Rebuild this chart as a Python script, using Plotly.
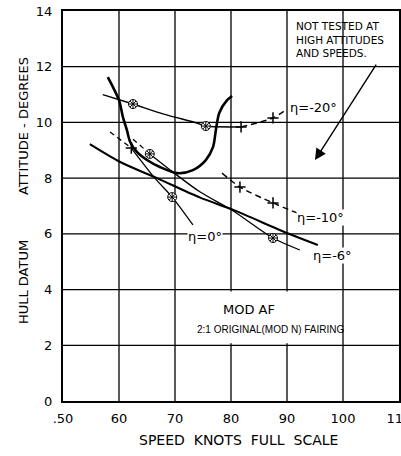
import plotly.graph_objects as go

# ---- data ----
x_ticks = [50, 60, 70, 80, 90, 100, 110]
x_tick_text = [".50", "60", "70", "80", "90", "100", "110"]
y_ticks = [0, 2, 4, 6, 8, 10, 12, 14]
y_tick_text = ["0", "2", "4", "6", "8", "10", "12", "14"]

# porpoising boundary (U-shaped solid curve)
u_speed = [58.0, 60.0, 60.7, 61.4, 62.0, 63.2, 65.0, 67.3, 70.4, 73.2, 75.5, 76.8, 77.3, 77.9, 79.3, 80.2]
u_att = [11.63, 10.8, 10.19, 9.73, 9.3, 8.94, 8.65, 8.4, 8.18, 8.29, 8.65, 9.12, 9.73, 10.34, 10.8, 10.95]

# heavy faired line
a_speed = [54.8, 60.2, 66.8, 74.5, 80.4, 90.0, 95.5]
a_att = [9.22, 8.58, 8.0, 7.3, 6.86, 6.03, 5.6]

# eta = -20 deg
e20_speed = [57.1, 62.5, 68.0, 73.9, 75.5, 81.8, 87.5, 89.8]
e20_att = [11.0, 10.66, 10.3, 9.98, 9.87, 9.84, 10.16, 10.45]
e20_star_speed = [62.5, 75.5]
e20_star_att = [10.66, 9.87]
e20_plus_speed = [81.8, 87.5]
e20_plus_att = [9.84, 10.16]

# eta = -10 deg
e10_speed = [78.4, 81.6, 87.5, 91.8]
e10_att = [8.18, 7.68, 7.11, 6.75]
e10_plus_speed = [81.6, 87.5]
e10_plus_att = [7.68, 7.11]

# eta = 0 deg
e0_speed = [58.4, 62.2, 66.4, 69.5, 73.2]
e0_att = [9.66, 9.08, 8.0, 7.32, 6.32]
e0_plus_speed = [62.2]
e0_plus_att = [9.08]
e0_star_speed = [69.5]
e0_star_att = [7.32]

# eta = -6 deg
e6_speed = [62.5, 65.5, 70.4, 74.5, 80.4, 87.5, 92.3]
e6_att = [9.40, 8.87, 8.1, 7.5, 6.82, 5.85, 5.42]
e6_star_speed = [65.5, 87.5]
e6_star_att = [8.87, 5.85]

FONT = "DejaVu Sans"
fig = go.Figure()

def line(xs, ys, width, dash="solid", shape="spline"):
    fig.add_trace(go.Scatter(x=xs, y=ys, mode="lines",
                             line=dict(color="black", width=width, dash=dash, shape=shape, smoothing=0.8),
                             showlegend=False, hoverinfo="skip"))

def star(xs, ys):
    fig.add_trace(go.Scatter(x=xs, y=ys, mode="markers",
                             marker=dict(symbol="circle", size=9, color="white",
                                         line=dict(color="black", width=1)),
                             showlegend=False, hoverinfo="skip"))
    fig.add_trace(go.Scatter(x=xs, y=ys, mode="markers",
                             marker=dict(symbol="asterisk-open", size=7, color="black",
                                         line=dict(color="black", width=1)),
                             showlegend=False, hoverinfo="skip"))

def plus(xs, ys):
    fig.add_trace(go.Scatter(x=xs, y=ys, mode="markers",
                             marker=dict(symbol="cross-thin-open", size=8, color="black",
                                         line=dict(color="black", width=1.5)),
                             showlegend=False, hoverinfo="skip"))

line(u_speed, u_att, 2.6)
line(a_speed, a_att, 2.1)
line(e20_speed[:6], e20_att[:6], 1.4)
line(e20_speed[5:], e20_att[5:], 1.4, dash="6px,4px")
line(e10_speed, e10_att, 1.4, dash="6px,4px")
line(e0_speed[:2], e0_att[:2], 1.3, dash="5px,4px")
line(e0_speed[1:], e0_att[1:], 1.3)
line(e6_speed[:2], e6_att[:2], 1.3, dash="5px,4px")
line(e6_speed[1:], e6_att[1:], 1.3)

star(e20_star_speed, e20_star_att)
star(e0_star_speed, e0_star_att)
star(e6_star_speed, e6_star_att)
plus(e20_plus_speed, e20_plus_att)
plus(e10_plus_speed, e10_plus_att)
plus(e0_plus_speed, e0_plus_att)

ann = []
def label(x, y, text, size=13, xanchor="center", bg="white", align="center", yanchor="middle",
          xref="x", yref="y", angle=0, family=FONT):
    ann.append(dict(x=x, y=y, text=text, showarrow=False, xref=xref, yref=yref,
                    xanchor=xanchor, yanchor=yanchor, align=align, textangle=angle,
                    font=dict(family=family, size=size, color="black"), bgcolor=bg, borderpad=0))

label(94.8, 10.55, "η=-20°")
label(95.9, 6.6, "η=-10°")
label(75.4, 5.9, "η=0°")
label(98.2, 5.24, "η=-6°")
label(91.4, 12.96, "NOT TESTED AT<br>HIGH ATTITUDES<br>AND SPEEDS.", size=10.5, xanchor="left",
      align="left", yanchor="middle", bg=None)
label(83.2, 3.3, "MOD AF", size=13, bg=None)
label(87.1, 2.55, "2:1 ORIGINAL(MOD N) FAIRING", size=10, bg=None, family="Liberation Sans")
label(81.25, -0.1, "SPEED  KNOTS  FULL  SCALE", size=14, xref="x", yref="paper", bg=None)
label(-0.119, 9.87, "ATTITUDE - DEGREES", size=13, xref="paper", angle=-90, bg=None)
label(-0.119, 4.27, "HULL DATUM", size=13, xref="paper", angle=-90, bg=None)

ann.append(dict(x=95.0, y=8.65, ax=106.1, ay=12.13, xref="x", yref="y", axref="x", ayref="y",
                showarrow=True, arrowhead=2, arrowsize=1.6, arrowwidth=1.4, arrowcolor="black", text=""))

# grid drawn from the tick arrays
shapes = []
for xv in x_ticks[1:-1]:
    shapes.append(dict(type="line", xref="x", yref="y", x0=xv, x1=xv, y0=y_ticks[0], y1=y_ticks[-1],
                       line=dict(color="black", width=1.3), layer="below"))
for yv in y_ticks[1:-1]:
    shapes.append(dict(type="line", xref="x", yref="y", x0=x_ticks[0], x1=x_ticks[-1], y0=yv, y1=yv,
                       line=dict(color="black", width=1.3), layer="below"))
# white panel behind the MOD AF legend text
shapes.append(dict(type="rect", xref="x", yref="y", x0=71.5, x1=99.3, y0=2.07, y1=3.93,
                   fillcolor="white", line=dict(width=0), layer="above"))

fig.update_layout(
    width=401, height=456, autosize=False,
    margin=dict(l=63, r=2, t=11, b=55, autoexpand=False),
    paper_bgcolor="white", plot_bgcolor="white",
    annotations=ann,
    shapes=shapes,
    font=dict(family=FONT, size=13, color="black"),
)
fig.update_xaxes(range=[50, 110], tickvals=x_ticks, ticktext=x_tick_text,
                 showgrid=False, zeroline=False, automargin=False,
                 showline=True, mirror=True, linecolor="black", linewidth=2,
                 ticks="", ticklabelstandoff=4, ticklabeloverflow="allow",
                 tickfont=dict(family=FONT, size=13))
fig.update_yaxes(range=[0, 14], tickvals=y_ticks, ticktext=y_tick_text,
                 showgrid=False, zeroline=False, automargin=False,
                 showline=True, mirror=True, linecolor="black", linewidth=2,
                 ticks="", ticklabelstandoff=6,
                 tickfont=dict(family=FONT, size=13))

fig.write_html(
    "out.html",
    config={"displayModeBar": False, "responsive": False},
    post_script="document.body.style.margin='0';document.body.style.overflow='hidden';"
                "document.documentElement.style.overflow='hidden';",
)
